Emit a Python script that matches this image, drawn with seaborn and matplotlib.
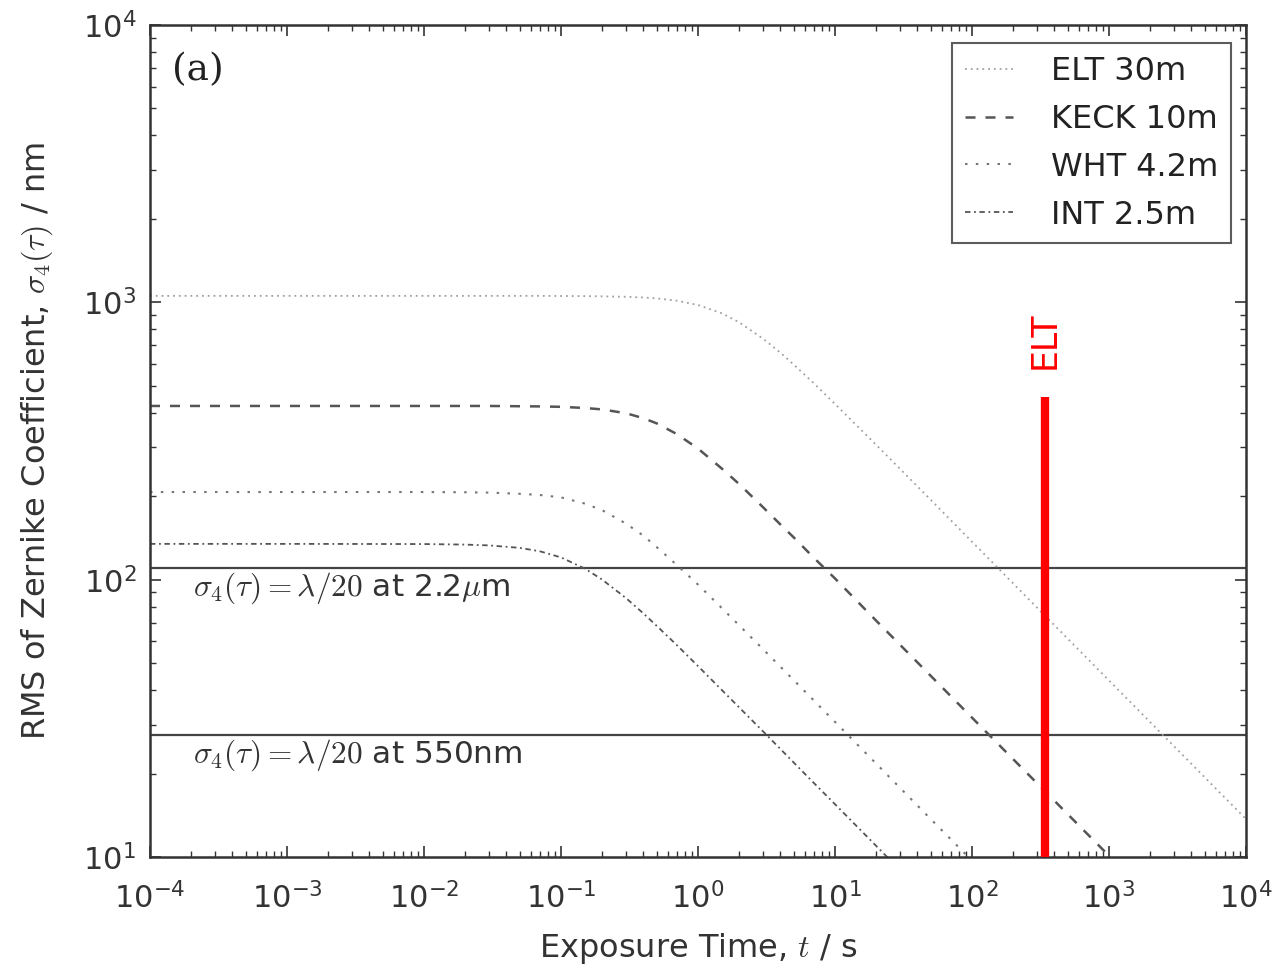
import numpy as np
import pandas as pd
import seaborn as sns
import matplotlib
matplotlib.use("Agg")
import matplotlib.pyplot as plt

exposure = [1e-4, 1e-3, 1e-2, 0.02, 0.03, 0.05, 0.07, 0.1, 0.15, 0.2, 0.3,
            0.4, 0.5, 0.7, 1, 1.5, 2, 3, 4, 5, 7, 10, 20, 50, 100, 1000, 10000]

# RMS of Zernike coefficient sigma_4 (nm)
elt_30m = [1055, 1055, 1055, 1055, 1055, 1055, 1055, 1054, 1053, 1051, 1047,
           1041, 1033, 1014, 978, 912, 847, 738, 658, 596, 511, 430, 306,
           194, 137, 43.3, 13.7]
keck_10m = [423, 423, 423, 423, 423, 422, 421.4, 420, 415.9, 411, 398, 382,
            366, 335, 297, 251, 221, 182, 158, 142, 120, 101, 71.1, 45.0,
            31.8, 10.1, 3.18]
wht_42m = [207, 207, 207, 206.6, 206, 204, 202, 198, 188, 178, 159, 144, 131,
           113, 96, 78.8, 68.4, 56.0, 48.5, 43.4, 36.7, 30.7, 21.7, 13.7,
           9.7, 3.07, 0.97]
int_25m = [134.6, 134.6, 134.4, 133.8, 132.9, 130.2, 126.6, 120.3, 109.5,
           100.0, 85.6, 75.5, 68.1, 58.1, 48.8, 39.9, 34.6, 28.3, 24.5, 21.9,
           18.5, 15.5, 10.96, 6.93, 4.9, 1.55, 0.49]

series_names = ["ELT 30m", "KECK 10m", "WHT 4.2m", "INT 2.5m"]

# lambda/20 thresholds (nm)
thresholds = [110, 27.5]
threshold_labels = [r"$\sigma_4(\tau) = \lambda/20$ at 2.2$\mu$m",
                    r"$\sigma_4(\tau) = \lambda/20$ at 550nm"]

# ELT marker
elt_time = 341
elt_top = 456

sns.set_style("ticks")
plt.rcParams["font.family"] = ["DejaVu Sans"]
plt.rcParams["mathtext.fontset"] = "dejavusans"

fig = plt.figure(figsize=(12.76, 9.69), dpi=100)
ax = fig.add_axes([150 / 1276, 112 / 969, 1096 / 1276, 832 / 969])

styles = {
    "ELT 30m": dict(color="#a0a0a0", lw=1.3, dashes=(1, 2.2)),
    "KECK 10m": dict(color="#555555", lw=1.8, dashes=(4, 4)),
    "WHT 4.2m": dict(color="#777777", lw=1.5, dashes=(1.2, 4)),
    "INT 2.5m": dict(color="#555555", lw=1.3, dashes=(3, 2, 1, 2)),
}

df = pd.DataFrame({"t": exposure * 4,
                   "sigma": elt_30m + keck_10m + wht_42m + int_25m,
                   "scope": np.repeat(series_names, len(exposure))})

for name in series_names:
    sub = df[df["scope"] == name]
    st = styles[name]
    sns.lineplot(data=sub, x="t", y="sigma", ax=ax, color=st["color"],
                 lw=st["lw"], label=name, estimator=None, sort=False)
    ax.lines[-1].set_dashes(st["dashes"])

for thr, lab in zip(thresholds, threshold_labels):
    ax.axhline(thr, color="#444444", lw=1.6, zorder=1)
    ax.text(2.05e-4, thr * 0.845, lab, fontsize=22.5, color="#333333",
            va="center", ha="left", math_fontfamily="cm")

ax.vlines(elt_time, 10, elt_top, color="red", lw=6, zorder=5)
ax.text(elt_time, 730, "ELT", color="red", fontsize=25, rotation=90,
        ha="center", va="center")

ax.text(1.45e-4, 6900, "(a)", fontsize=27, color="#222222",
        family="DejaVu Serif", va="center", ha="left")

ax.set_xscale("log")
ax.set_yscale("log")
ax.set_xlim(1e-4, 1e4)
ax.set_ylim(10, 1e4)
ax.set_xticks([10.0 ** k for k in range(-4, 5)])
ax.set_yticks([10.0 ** k for k in range(1, 5)])

ax.tick_params(which="both", direction="in", top=True, right=True,
               colors="#333333", labelcolor="#333333")
ax.tick_params(which="major", length=8, width=1.2, labelsize=22)
ax.tick_params(axis="x", which="major", pad=18)
ax.tick_params(axis="y", which="major", pad=10)
ax.tick_params(which="minor", length=4, width=1.0)
for sp in ax.spines.values():
    sp.set_linewidth(1.8)
    sp.set_color("#333333")

ax.set_xlabel(r"Exposure Time, $t$ / s", fontsize=23, color="#333333",
              math_fontfamily="cm", labelpad=12)
ax.set_ylabel(r"RMS of Zernike Coefficient, $\sigma_4(\tau)$ / nm",
              fontsize=23, color="#333333", math_fontfamily="cm",
              labelpad=20)

leg = ax.legend(loc="upper right", bbox_to_anchor=(1 - 15 / 1096, 1 - 18 / 832),
                borderaxespad=0, fontsize=23, frameon=True, fancybox=False,
                handlelength=1.5, labelspacing=0.53, handletextpad=1.2,
                borderpad=0.4)
leg.get_frame().set_edgecolor("#333333")
leg.get_frame().set_linewidth(1.5)
for txt in leg.get_texts():
    txt.set_color("#222222")
for h, name in zip(leg.get_lines(), series_names):
    h.set_dashes(styles[name]["dashes"])

fig.savefig("out.png", dpi=100)
